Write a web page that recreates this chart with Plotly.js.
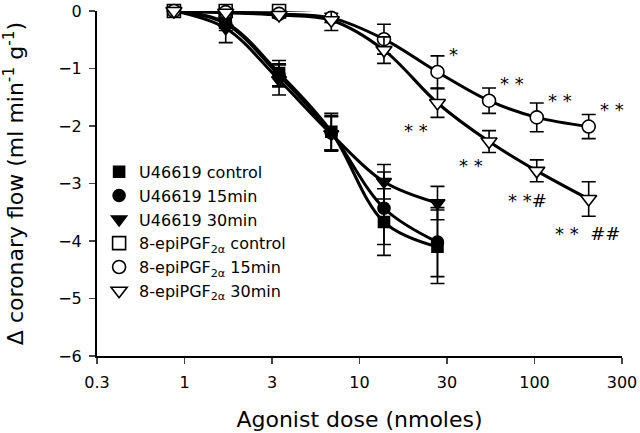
<!DOCTYPE html>
<html>
<head>
<meta charset="utf-8">
<script src="https://cdn.plot.ly/plotly-3.0.1.min.js"></script>
<style>html,body{margin:0;padding:0;background:#fff;}#chart{width:640px;height:433px;}</style>
</head>
<body>
<div id="chart"></div>
<script>
// Doses (nmoles)
const doses = [0.87, 1.72, 3.47, 6.9, 13.8, 27.9, 55, 103, 204];
const u46Doses = doses.slice(0, 6);

// U46619 series
const u46Control = [0, -0.2, -1.08, -2.1, -3.67, -4.1];
const u46ControlErr = [0, 0.1, 0.22, 0.32, 0.58, 0.64];
const u46Min15 = [0, -0.22, -1.12, -2.12, -3.43, -4.02];
const u46Min15Err = [0, 0.12, 0.2, 0.3, 0.63, 0.6];
const u46Min30 = [0, -0.3, -1.2, -2.14, -2.97, -3.34];
const u46Min30Err = [0, 0.25, 0.26, 0.3, 0.3, 0.29];

// 8-epiPGF2a series
const epiControl = [0, 0, 0, 0.02, 0.03, 0.03, 0.04, 0.05, 0.06];
const epiControlErr = [0, 0, 0, 0, 0, 0, 0, 0, 0];
const epiMin15 = [0, -0.02, -0.05, -0.12, -0.49, -1.06, -1.56, -1.85, -2.01];
const epiMin15Err = [0, 0, 0.03, 0.08, 0.26, 0.28, 0.22, 0.25, 0.21];
const epiMin30 = [0, -0.03, -0.07, -0.16, -0.68, -1.6, -2.27, -2.78, -3.27];
const epiMin30Err = [0, 0.03, 0.05, 0.18, 0.23, 0.25, 0.19, 0.19, 0.3];

// Significance labels: [point index, text]
const sigMin15 = [[5, '*'], [6, '* *'], [7, '* *'], [8, '* *']];
const sigMin30 = [[5, '* *'], [6, '* *'], [7, '* *#'], [8, '* *  ##']];

const tickVals = [0.3162, 1, 3.162, 10, 31.62, 100, 316.2];
const tickText = ['0.3', '1', '3', '10', '30', '100', '300'];
const yTicks = [0, -1, -2, -3, -4, -5, -6];

const series = [
  {name: 'U46619 control', x: u46Doses, y: u46Control, e: u46ControlErr, symbol: 'square', fill: '#000', size: 11, lw: 3},
  {name: 'U46619 15min', x: u46Doses, y: u46Min15, e: u46Min15Err, symbol: 'circle', fill: '#000', size: 12, lw: 3},
  {name: 'U46619 30min', x: u46Doses, y: u46Min30, e: u46Min30Err, symbol: 'triangle-down', fill: '#000', size: 13, lw: 3},
  {name: '8-epiPGF<sub>2α</sub> control', x: doses, y: epiControl, e: epiControlErr, symbol: 'square', fill: '#fff', size: 13, lw: 1.5},
  {name: '8-epiPGF<sub>2α</sub> 15min', x: doses, y: epiMin15, e: epiMin15Err, symbol: 'circle', fill: '#fff', size: 13, lw: 3},
  {name: '8-epiPGF<sub>2α</sub> 30min', x: doses, y: epiMin30, e: epiMin30Err, symbol: 'triangle-down', fill: '#fff', size: 14, lw: 3}
];

const traces = [];
series.forEach(s => {
  traces.push({
    x: s.x, y: s.y, mode: 'lines', type: 'scatter', showlegend: false, hoverinfo: 'skip',
    line: {color: '#000', width: s.lw, shape: 'spline', smoothing: 1}, cliponaxis: false
  });
});
series.forEach(s => {
  traces.push({
    x: s.x, y: s.y, mode: 'markers', type: 'scatter', name: s.name,
    marker: {symbol: s.symbol, size: s.size, color: s.fill, line: {color: '#000', width: 1.6}},
    error_y: {type: 'data', array: s.e, visible: true, color: '#000', thickness: 1.6, width: 7},
    cliponaxis: false
  });
});

const annotations = [];
sigMin15.forEach(([i, t]) => {
  annotations.push({x: Math.log10(doses[i]), y: epiMin15[i], xref: 'x', yref: 'y', text: t, showarrow: false,
    xshift: i === 5 ? 16 : 23, yshift: 17, font: {size: 18}});
});
const min30Shift = {5: [-21, -27], 6: [-18, -24], 7: [-9, -30], 8: [-1, -34]};
sigMin30.forEach(([i, t]) => {
  annotations.push({x: Math.log10(doses[i]), y: epiMin30[i], xref: 'x', yref: 'y', text: t, showarrow: false,
    xshift: min30Shift[i][0], yshift: min30Shift[i][1], font: {size: 18}});
});

const layout = {
  width: 640, height: 433,
  margin: {l: 97, r: 18, t: 11, b: 77},
  paper_bgcolor: '#fff', plot_bgcolor: '#fff',
  font: {family: 'DejaVu Sans, Liberation Sans, sans-serif', color: '#000', size: 16},
  showlegend: true,
  legend: {x: 0.004, y: 0.583, xanchor: 'left', yanchor: 'top', bgcolor: 'rgba(0,0,0,0)',
    font: {size: 16}, tracegroupgap: 0},
  xaxis: {
    type: 'log', range: [-0.5, 2.5], tickvals: tickVals, ticktext: tickText,
    ticks: 'outside', ticklen: 6, tickwidth: 1.5, showline: true, linewidth: 2, linecolor: '#000',
    showgrid: false, zeroline: false, ticklabelstandoff: 5,
    tickfont: {size: 16},
    title: {text: 'Agonist dose (nmoles)', font: {size: 22}, standoff: 20}
  },
  yaxis: {
    range: [-6, 0], tickvals: yTicks,
    ticks: 'outside', ticklen: 6, tickwidth: 1.5, showline: true, linewidth: 2, linecolor: '#000',
    showgrid: false, zeroline: false, ticklabelstandoff: 4,
    tickfont: {size: 16},
    title: {text: 'Δ coronary flow (ml min<sup>-1</sup> g<sup>-1</sup>)', font: {size: 22}, standoff: 34}
  },
  annotations: annotations
};

Plotly.newPlot('chart', traces, layout, {displayModeBar: false, staticPlot: true});
</script>
</body>
</html>
